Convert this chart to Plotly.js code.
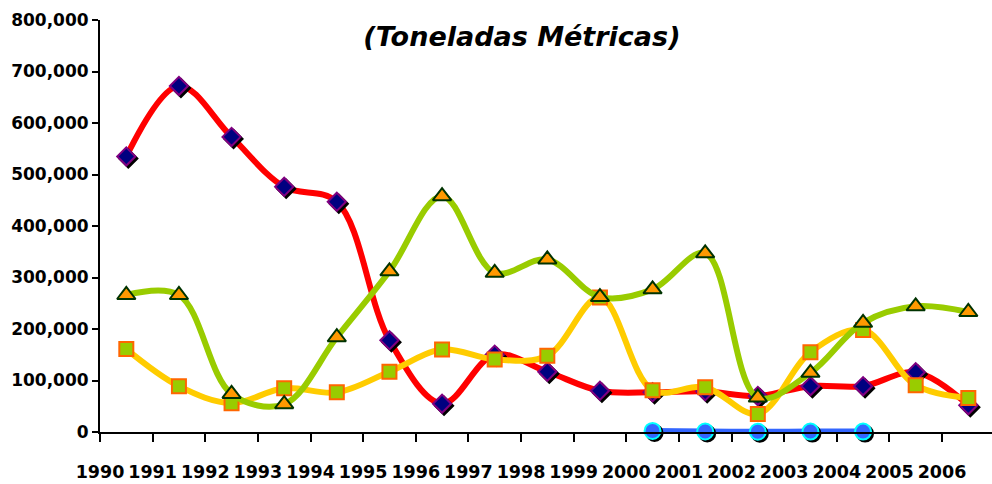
<!DOCTYPE html>
<html>
<head>
<meta charset="utf-8">
<script src="https://cdn.plot.ly/plotly-3.0.1.min.js"></script>
<style>
html,body{margin:0;padding:0;background:#fff;}
#chart{width:992px;height:484px;}
</style>
</head>
<body>
<div id="chart"></div>
<script>
const years = ["1990","1991","1992","1993","1994","1995","1996","1997","1998","1999","2000","2001","2002","2003","2004","2005","2006"];
const redSeries    = [535000, 672000, 573000, 476000, 447000, 178000, 55000, 150000, 117000, 80000, 77000, 79000, 70000, 89000, 89000, 116000, 52000];
const orangeSeries = [161000, 89000, 56000, 85000, 77000, 117000, 160000, 141000, 148000, 261000, 81000, 87000, 35000, 155000, 198000, 91000, 66000];
const greenSeries  = [266000, 266000, 74000, 54000, 184000, 312000, 458000, 309000, 335000, 262000, 277000, 347000, 67000, 115000, 212000, 244000, 233000];
const blueSeries   = [null, null, null, null, null, null, null, null, null, null, 2000, 1000, 500, 800, 800, null, null];
const titleText = "(Toneladas Métricas)";

// category centres sit half a step to the right of each year label
const xPos = years.map((_, i) => i + 0.5);
const tickPos = years.map((_, i) => i);

function series(y, lineColor, symbol, fill, border, size) {
  return {
    x: xPos, y: y, type: 'scatter', mode: 'lines+markers',
    line: {color: lineColor, width: 6, shape: 'spline', smoothing: 1},
    marker: {symbol: symbol, color: fill, size: size, line: {color: border, width: 2}},
    connectgaps: false, hoverinfo: 'skip', cliponaxis: false
  };
}

const traces = [
  series(redSeries, '#FF0000', 'diamond', '#000080', '#800080', 14),
  series(orangeSeries, '#FFCC00', 'square', '#99CC00', '#FF6600', 14),
  series(greenSeries, '#99CC00', 'triangle-up', '#FF9900', '#003300', 16),
  series(blueSeries, '#3366FF', 'circle', '#3366FF', '#00FFFF', 16)
];

const fontFam = '"DejaVu Sans", Arial, sans-serif';
const layout = {
  width: 992, height: 484,
  margin: {l: 100, r: 0, t: 20, b: 52, pad: 0},
  paper_bgcolor: '#fff', plot_bgcolor: '#fff',
  showlegend: false,
  font: {family: fontFam, color: '#000', size: 17, weight: 'bold'},
  title: {
    text: titleText, x: 0.473, xref: 'paper', xanchor: 'center', y: 0.925, yref: 'container', yanchor: 'middle',
    font: {family: fontFam, size: 27, weight: 'bold', style: 'italic', color: '#000'}
  },
  xaxis: {
    range: [0, 16.95], showgrid: false, zeroline: false,
    showline: true, linecolor: '#000', linewidth: 2,
    tickmode: 'array', tickvals: tickPos, ticktext: years,
    ticks: 'outside', ticklen: 8, tickwidth: 2, tickcolor: '#000',
    ticklabelstandoff: 15,
    tickfont: {family: fontFam, size: 17.5, weight: 'bold', color: '#000'}
  },
  yaxis: {
    range: [0, 800000], showgrid: false, zeroline: false,
    showline: true, linecolor: '#000', linewidth: 2,
    tickmode: 'linear', tick0: 0, dtick: 100000, tickformat: ',d',
    ticks: 'outside', ticklen: 6, tickwidth: 2, tickcolor: '#000',
    tickfont: {family: fontFam, size: 17, weight: 'bold', color: '#000'}
  }
};

Plotly.newPlot('chart', traces, layout, {staticPlot: true}).then(() => {
  const tr = document.querySelectorAll('.scatterlayer .trace');
  [0, 3].forEach(i => {
    if (tr[i]) tr[i].querySelectorAll('.points path').forEach(p => {
      p.style.filter = 'drop-shadow(2px 2px 0 #000)';
    });
  });
});
</script>
</body>
</html>
